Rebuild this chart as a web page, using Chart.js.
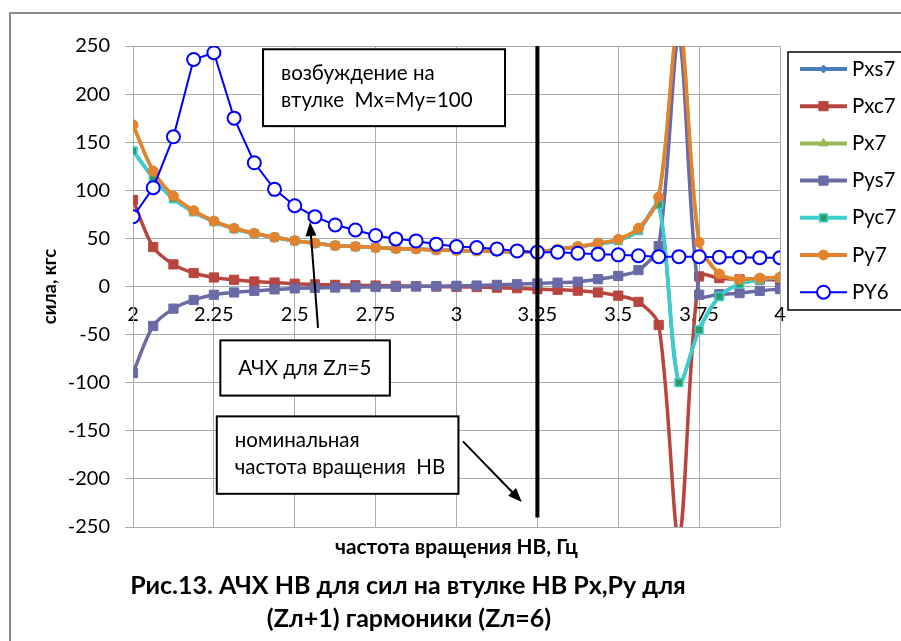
<!DOCTYPE html>
<html>
<head>
<meta charset="utf-8">
<script src="https://cdn.jsdelivr.net/npm/chart.js@4.4.1/dist/chart.umd.min.js"></script>
<style>
  html, body { margin: 0; padding: 0; background: #fff; }
  #wrap { width: 901px; height: 641px; }
</style>
</head>
<body>
<div id="wrap"><canvas id="canvas" width="901" height="641"></canvas></div>
<script>
// частота вращения НВ, Гц
const freq = [2, 2.0625, 2.125, 2.1875, 2.25, 2.3125, 2.375, 2.4375, 2.5, 2.5625, 2.625, 2.6875,
  2.75, 2.8125, 2.875, 2.9375, 3, 3.0625, 3.125, 3.1875, 3.25, 3.3125, 3.375, 3.4375,
  3.5, 3.5625, 3.625, 3.6875, 3.75, 3.8125, 3.875, 3.9375, 4];

// сила, кгс
const pxs7 = [141, 113, 91, 77.5, 67.4, 60, 55, 51, 47.5, 45, 42.5, 41.5, 40.5, 39.4, 39, 38,
  37.5, 37, 36.5, 36, 35.8, 38.6, 41.2, 44.3, 47.8, 58, 85, -100, -45, -10.4, 2.5, 7, 9];
const pxc7 = [90, 41, 23, 14, 9.4, 7, 5.2, 4.1, 2.9, 2.2, 1.7, 1.3, 1, 0.7, 0.4, 0,
  -0.3, -0.6, -1.2, -1.8, -2.8, -3.4, -4.3, -6.2, -9.5, -16, -40, -262, 10.5, 8.7, 7.5, 7, 7];
const px7 = [168, 120, 94, 78.8, 68, 60.5, 55.4, 51.2, 47.7, 45, 42.5, 41.5, 40.5, 39.4, 39, 38,
  37.5, 37, 36.5, 36, 36, 38.8, 41.5, 45, 49, 60.5, 93, 277, 46, 13, 7.5, 8.7, 9.7];
const pys7 = [-90, -41, -23, -14, -8.6, -6.2, -4.5, -3, -2, -1.5, -1.1, -0.8, -0.5, -0.3, 0, 0.3,
  0.7, 1, 1.7, 2.4, 3.2, 4, 5, 7.6, 11, 17, 42, 258, -8.6, -8, -6.9, -4.5, -2.7];
const pyc7 = [141, 113, 91, 77.5, 67.4, 60, 55, 51, 47.5, 45, 42.5, 41.5, 40.5, 39.4, 39, 38,
  37.5, 37, 36.5, 36, 35.8, 38.6, 41.2, 44.3, 47.8, 58, 85, -100, -45, -10.4, 2.5, 7, 9];
const py7 = [168, 120, 94, 78.8, 68, 60.5, 55.4, 51.2, 47.7, 45, 42.5, 41.5, 40.5, 39.4, 39, 38,
  37.5, 37, 36.5, 36, 36, 38.8, 41.5, 45, 49, 60.5, 93, 277, 46, 13, 7.5, 8.7, 9.7];
const py6 = [72.6, 102.7, 155.6, 236, 243, 175, 128.6, 101, 84, 72.6, 64, 58.8, 53, 49.5, 47.4, 44,
  41.5, 40.5, 39, 37, 35.7, 35.7, 34.6, 33.6, 32.9, 32, 31, 31, 31, 30.5, 30.5, 30, 30];

const seriesNames = ["Pxs7", "Pxc7", "Px7", "Pys7", "Pyc7", "Py7", "PY6"];

const xTickValues = [2, 2.25, 2.5, 2.75, 3, 3.25, 3.5, 3.75, 4];
const xTickLabels = ["2", "2.25", "2.5", "2.75", "3", "3.25", "3.5", "3.75", "4"];
const yTickValues = [-250, -200, -150, -100, -50, 0, 50, 100, 150, 200, 250];

// номинальная частота вращения
const nominalX = [3.25, 3.25];
const nominalY = [250, -240];

// надписи (углы рамок в единицах осей)
const noteBoxes = [
  { x0: 2.402, y0: 246.6, x1: 3.15, y1: 166.7, lines: ["возбуждение на", "втулке  Mx=My=100"] },
  { x0: 2.27, y0: -56, x1: 2.794, y1: -113.4, lines: ["АЧХ для Zл=5"] },
  { x0: 2.259, y0: -135, x1: 3.006, y1: -215.5, lines: ["номинальная", "частота вращения  НВ"] }
];
// стрелки: [x хвоста, y хвоста, x острия, y острия]
const arrows = [
  [2.572, -43, 2.547, 67],
  [3.02, -161, 3.202, -224]
];

const FONT = "Lato, 'Open Sans', sans-serif";
const gridColor = "#ABABAB";
Chart.defaults.font.family = FONT;
Chart.defaults.color = "#000";

const ctx = document.getElementById("canvas").getContext("2d");

const pts = (ys) => freq.map((f, i) => ({ x: f, y: ys[i] }));

const series = (label, data, color, style, order, extra) => Object.assign({
  label: label,
  data: pts(data),
  borderColor: color,
  backgroundColor: color,
  borderWidth: 3.5,
  pointStyle: style,
  pointRadius: 5,
  pointBorderWidth: 1,
  pointBorderColor: color,
  pointBackgroundColor: color,
  tension: 0.3,
  order: order
}, extra || {});

const markerOf = (ds) => ({
  pointStyle: ds.pointStyle,
  radius: ds.pointRadius,
  borderWidth: ds.pointBorderWidth,
  rotation: 0
});

const extras = {
  id: "extras",
  beforeDraw(chart) {
    const c = chart.ctx;
    c.save();
    c.fillStyle = "#fff";
    c.fillRect(0, 0, chart.width, chart.height);
    c.strokeStyle = "#8C8C8C";
    c.lineWidth = 2;
    c.strokeRect(10, 13, 1000, 1000);
    c.restore();
  },
  afterDraw(chart) {
    const c = chart.ctx;
    const sx = chart.scales.x, sy = chart.scales.y;
    c.save();

    // рамки с текстом
    noteBoxes.forEach((b) => {
      const l = sx.getPixelForValue(b.x0), t = sy.getPixelForValue(b.y0);
      const r = sx.getPixelForValue(b.x1), btm = sy.getPixelForValue(b.y1);
      c.fillStyle = "#fff";
      c.fillRect(l, t, r - l, btm - t);
      c.strokeStyle = "#000";
      c.lineWidth = 2;
      c.strokeRect(l, t, r - l, btm - t);
      c.fillStyle = "#000";
      c.font = "20.5px " + FONT;
      c.textBaseline = "middle";
      c.textAlign = "left";
      const h = btm - t;
      const start = b.lines.length === 1 ? t + h / 2 : t + 24;
      b.lines.forEach((s, i) => c.fillText(s, l + 18, start + i * 27.5));
    });

    // стрелки
    c.strokeStyle = "#000";
    c.fillStyle = "#000";
    c.lineWidth = 2;
    arrows.forEach((a) => {
      const x1 = sx.getPixelForValue(a[0]), y1 = sy.getPixelForValue(a[1]);
      const x2 = sx.getPixelForValue(a[2]), y2 = sy.getPixelForValue(a[3]);
      const ang = Math.atan2(y2 - y1, x2 - x1);
      const len = 14, half = 5.5;
      c.beginPath();
      c.moveTo(x1, y1);
      c.lineTo(x2 - Math.cos(ang) * len * 0.7, y2 - Math.sin(ang) * len * 0.7);
      c.stroke();
      c.beginPath();
      c.moveTo(x2, y2);
      c.lineTo(x2 - len * Math.cos(ang) + half * Math.sin(ang), y2 - len * Math.sin(ang) - half * Math.cos(ang));
      c.lineTo(x2 - len * Math.cos(ang) - half * Math.sin(ang), y2 - len * Math.sin(ang) + half * Math.cos(ang));
      c.closePath();
      c.fill();
    });

    // подписи осей
    c.fillStyle = "#000";
    c.textAlign = "center";
    c.textBaseline = "middle";
    c.font = "bold 20.8px " + FONT;
    c.fillText("частота вращения НВ, Гц", (chart.chartArea.left + chart.chartArea.right) / 2, 547);
    c.save();
    c.translate(50, (chart.chartArea.top + chart.chartArea.bottom) / 2);
    c.rotate(-Math.PI / 2);
    c.font = "bold 18.5px " + FONT;
    c.fillText("сила, кгс", 0, 0);
    c.restore();

    c.font = "bold 25px " + FONT;
    c.fillText("Рис.13. АЧХ НВ для сил на втулке НВ Px,Py для", 408, 586);
    c.fillText("(Zл+1) гармоники (Zл=6)", 409, 619);

    // легенда
    c.strokeStyle = "#000";
    c.lineWidth = 1.5;
    c.strokeRect(788, 52, 200, 258);
    const rowY = 69, rowStep = 37.2;
    chart.data.datasets.forEach((ds, i) => {
      if (!seriesNames.includes(ds.label)) return;
      const y = rowY + i * rowStep;
      c.strokeStyle = ds.borderColor;
      c.lineWidth = ds.label === "PY6" ? 2 : 4;
      c.beginPath();
      c.moveTo(800, y);
      c.lineTo(847, y);
      c.stroke();
      c.fillStyle = ds.pointBackgroundColor;
      c.strokeStyle = ds.pointBorderColor;
      c.lineWidth = ds.pointBorderWidth;
      Chart.helpers.drawPoint(c, markerOf(ds), 823.5, y);
      c.fillStyle = "#000";
      c.font = "20.5px " + FONT;
      c.textAlign = "left";
      c.fillText(ds.label, 852, y);
    });
    c.restore();
  }
};

const chart = new Chart(ctx, {
  type: "line",
  data: {
    datasets: [
      series("Pxs7", pxs7, "#4A7EBB", "rectRot", 7, { pointRadius: 4 }),
      series("Pxc7", pxc7, "#B8463F", "rect", 6, { pointRadius: 6.5 }),
      series("Px7", px7, "#98B954", "triangle", 5, { pointRadius: 5 }),
      series("Pys7", pys7, "#6A6AA6", "rect", 4, { pointRadius: 6.5 }),
      series("Pyc7", pyc7, "#3CCFCF", "rect", 3, {
        pointRadius: 5.5, pointBackgroundColor: "#2E9A68", pointBorderColor: "#3CCFCF", pointBorderWidth: 1.5
      }),
      series("Py7", py7, "#E5822E", "circle", 2, { pointRadius: 5 }),
      series("PY6", py6, "#0000FF", "circle", 1, {
        borderWidth: 2, tension: 0, pointRadius: 6.5, pointBorderWidth: 2,
        pointBackgroundColor: "#FFFFFF", pointBorderColor: "#0000FF"
      }),
      {
        label: "nominal",
        data: nominalX.map((x, i) => ({ x: x, y: nominalY[i] })),
        borderColor: "#000",
        borderWidth: 4,
        pointRadius: 0,
        tension: 0,
        order: 0
      }
    ]
  },
  options: {
    responsive: false,
    animation: false,
    layout: { padding: { left: 0, top: 46, right: 121, bottom: 114 } },
    elements: { line: { capBezierPoints: false } },
    plugins: { legend: { display: false }, tooltip: { enabled: false } },
    scales: {
      x: {
        type: "linear",
        position: { y: 0 },
        min: 2,
        max: 4,
        afterBuildTicks: (axis) => { axis.ticks = xTickValues.map((v) => ({ value: v })); },
        grid: { color: gridColor, lineWidth: 1, drawTicks: false },
        border: { color: gridColor, width: 1 },
        ticks: {
          font: { size: 20 },
          color: "#000",
          padding: 16,
          maxRotation: 0,
          autoSkip: false,
          callback: (v) => xTickLabels[xTickValues.indexOf(v)]
        }
      },
      y: {
        type: "linear",
        min: -250,
        max: 250,
        afterBuildTicks: (axis) => { axis.ticks = yTickValues.map((v) => ({ value: v })); },
        afterFit: (axis) => { axis.width = 133; },
        grid: { color: gridColor, lineWidth: 1, tickLength: 8 },
        border: { color: gridColor, width: 1 },
        ticks: { font: { size: 20 }, color: "#000", padding: 15 }
      }
    }
  },
  plugins: [extras]
});
</script>
</body>
</html>
